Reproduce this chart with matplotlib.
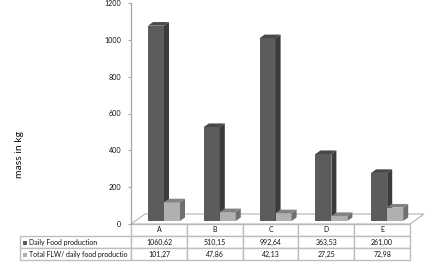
import matplotlib
matplotlib.use("Agg")
import matplotlib.pyplot as plt
from matplotlib.patches import Polygon, Rectangle

categories = ["A", "B", "C", "D", "E"]
daily_food = [1060.62, 510.15, 992.64, 363.53, 261.00]
total_flw = [101.27, 47.86, 42.13, 27.25, 72.98]
daily_labels = ["1060,62", "510,15", "992,64", "363,53", "261,00"]
flw_labels = ["101,27", "47,86", "42,13", "27,25", "72,98"]
row_names = ["Daily Food production", "Total FLW/ daily food productio"]
yticks = [0, 200, 400, 600, 800, 1000, 1200]

W, H = 426, 271
plt.rcParams["font.family"] = ["Lato", "DejaVu Sans"]
fig = plt.figure(figsize=(W / 100, H / 100), dpi=100)
L, R, T, B = 131, 410, 3, 224
ax = fig.add_axes([L / W, 1 - B / H, (R - L) / W, (B - T) / H])
ax.set_xlim(0, 5)
ax.set_ylim(0, 1200)
pxx = 5 / (R - L)
pxy = 1200 / (B - T)

for s in ["top", "right", "bottom"]:
    ax.spines[s].set_visible(False)
ax.spines["left"].set_color("#a6a6a6")
ax.spines["left"].set_linewidth(0.9)
ax.set_xticks([])
ax.set_yticks(yticks)
ax.tick_params(axis="y", length=2, width=0.8, color="#a6a6a6", labelsize=5.1, labelcolor="#111111", pad=5)
fig.text(19.5 / W, 1 - 154 / H, "mass in kg", rotation=90, ha="center", va="center", fontsize=7.5, color="#111111")

# floor
ddx, ddy = 14 * pxx, 10 * pxy
base = 3 * pxy
ax.add_patch(Polygon([(0, 0), (ddx, ddy), (5 + ddx, ddy), (5, 0)], closed=True, fc="white",
                     ec="#b5b5b5", lw=0.8, clip_on=False, zorder=1))

dx, dy = 5 * pxx, 3.6 * pxy
bw = 16 * pxx


def bar3d(x0, v, front, side, top):
    y0, y1 = base, base + v
    ax.add_patch(Rectangle((x0, y0), bw, v, fc=front, ec="none", zorder=3, clip_on=False))
    ax.add_patch(Polygon([(x0 + bw, y0), (x0 + bw + dx, y0 + dy), (x0 + bw + dx, y1 + dy), (x0 + bw, y1)],
                         closed=True, fc=side, ec="none", zorder=3, clip_on=False))
    ax.add_patch(Polygon([(x0, y1), (x0 + dx, y1 + dy), (x0 + bw + dx, y1 + dy), (x0 + bw, y1)],
                         closed=True, fc=top, ec="none", zorder=3, clip_on=False))


for i in range(len(categories)):
    x0 = i + 17 * pxx
    bar3d(x0, daily_food[i], "#5c5c5c", "#3b3b3b", "#484848")
    bar3d(x0 + bw, total_flw[i], "#b0b0b0", "#6f6f6f", "#838383")

# table
cell_text = [[""] + categories,
             [row_names[0]] + daily_labels,
             [row_names[1]] + flw_labels]
lw_px = 111
bbox = [(20 - L) / (R - L), -(260 - B) / (B - T), (R - 20) / (R - L), (260 - B) / (B - T)]
tb = ax.table(cellText=cell_text, bbox=bbox, cellLoc="center",
              colWidths=[lw_px / (R - L)] + [1 / 5] * 5)
tb.auto_set_font_size(False)
for (r, c), cell in tb.get_celld().items():
    cell.set_edgecolor("#bdbdbd")
    cell.set_linewidth(1.0)
    cell.get_text().set_fontsize(5.0)
    cell.get_text().set_color("#111111")
    if c == 0:
        cell.get_text().set_ha("left")
        cell.PAD = 9 / lw_px
    if r == 0 and c == 0:
        cell.set_visible(False)

# legend keys inside the table row labels
for yy, col in [(243, "#5c5c5c"), (255, "#b0b0b0")]:
    fig.add_artist(Rectangle((22.5 / W, 1 - (yy + 2) / H), 4 / W, 4 / H, transform=fig.transFigure,
                             fc=col, ec="none", zorder=5))

fig.savefig("out.png", dpi=100)
